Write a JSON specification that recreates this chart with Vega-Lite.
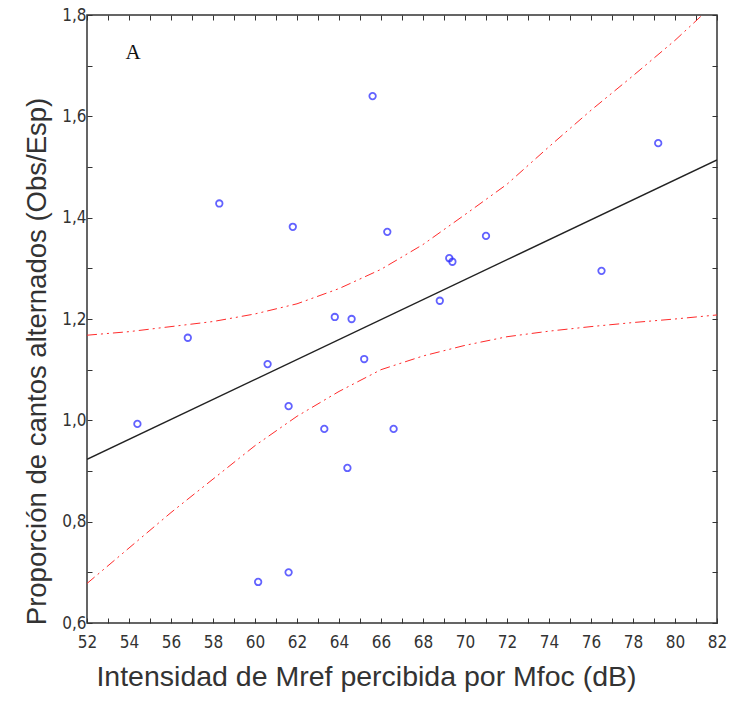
{
  "$schema": "https://vega.github.io/schema/vega-lite/v6.json",
  "width": 630,
  "height": 608,
  "autosize": "none",
  "padding": {"left": 87, "top": 15, "right": 13, "bottom": 82},
  "background": "white",
  "config": {
    "view": {"stroke": "#333333", "strokeWidth": 1.5},
    "axis": {
      "grid": false,
      "domain": false,
      "tickColor": "#333333",
      "tickSize": -5,
      "tickWidth": 1,
      "labelFlush": false,
      "labelFont": "DejaVu Sans Condensed",
      "labelFontSize": 17,
      "labelColor": "#333333",
      "titleFont": "Liberation Sans",
      "titleFontSize": 26,
      "titleFontWeight": "normal",
      "titleColor": "#333333"
    }
  },
  "datasets": {
    "pts": [
      {"x": 54.4, "y": 0.993},
      {"x": 56.8, "y": 1.163},
      {"x": 58.3, "y": 1.428},
      {"x": 60.15, "y": 0.681},
      {"x": 60.6, "y": 1.111},
      {"x": 61.6, "y": 0.70},
      {"x": 61.6, "y": 1.028},
      {"x": 61.8, "y": 1.382},
      {"x": 63.3, "y": 0.983},
      {"x": 63.8, "y": 1.204},
      {"x": 64.4, "y": 0.906},
      {"x": 64.6, "y": 1.20},
      {"x": 65.2, "y": 1.121},
      {"x": 65.6, "y": 1.64},
      {"x": 66.3, "y": 1.372},
      {"x": 66.6, "y": 0.983},
      {"x": 68.8, "y": 1.236},
      {"x": 69.25, "y": 1.32},
      {"x": 69.4, "y": 1.313},
      {"x": 71.0, "y": 1.364},
      {"x": 76.5, "y": 1.295},
      {"x": 79.2, "y": 1.547}
    ],
    "fit": [
      {"x": 52, "y": 0.923},
      {"x": 82, "y": 1.514}
    ],
    "upper": [
      {"x": 52, "y": 1.168},
      {"x": 54, "y": 1.175},
      {"x": 56, "y": 1.185},
      {"x": 58, "y": 1.195},
      {"x": 60, "y": 1.21},
      {"x": 62, "y": 1.23},
      {"x": 64, "y": 1.26},
      {"x": 66, "y": 1.298},
      {"x": 68, "y": 1.347},
      {"x": 70, "y": 1.406},
      {"x": 72, "y": 1.466},
      {"x": 74, "y": 1.54},
      {"x": 76, "y": 1.612},
      {"x": 78, "y": 1.68},
      {"x": 80, "y": 1.75},
      {"x": 81.3, "y": 1.8}
    ],
    "lower": [
      {"x": 52, "y": 0.678},
      {"x": 54, "y": 0.748},
      {"x": 56, "y": 0.818},
      {"x": 58, "y": 0.884},
      {"x": 60, "y": 0.95},
      {"x": 62, "y": 1.008},
      {"x": 64, "y": 1.057},
      {"x": 66, "y": 1.10},
      {"x": 68, "y": 1.127},
      {"x": 70, "y": 1.148},
      {"x": 72, "y": 1.165},
      {"x": 74, "y": 1.176},
      {"x": 76, "y": 1.185},
      {"x": 78, "y": 1.193},
      {"x": 80, "y": 1.200},
      {"x": 82, "y": 1.208}
    ],
    "ann": [
      {"x": 54.2, "y": 1.725, "label": "A"}
    ]
  },
  "resolve": {"axis": {"x": "independent", "y": "independent"}},
  "layer": [
    {
      "data": {"name": "fit"},
      "mark": {"type": "line", "color": "#222222", "strokeWidth": 1.5, "clip": true},
      "encoding": {
        "x": {
          "field": "x", "type": "quantitative",
          "scale": {"domain": [52, 82], "nice": false, "zero": false},
          "axis": {
            "orient": "bottom",
            "title": "Intensidad de Mref percibida por Mfoc (dB)",
            "titleFontSize": 28.5,
            "titleX": 279,
            "values": [52,53,54,55,56,57,58,59,60,61,62,63,64,65,66,67,68,69,70,71,72,73,74,75,76,77,78,79,80,81,82],
            "labelExpr": "datum.value % 2 == 0 ? format(datum.value, 'd') : ''",
            "labelPadding": 16,
            "titlePadding": 12
          }
        },
        "y": {
          "field": "y", "type": "quantitative",
          "scale": {"domain": [0.6, 1.8], "nice": false, "zero": false},
          "axis": {
            "orient": "left",
            "title": "Proporción de cantos alternados (Obs/Esp)",
            "titleFontSize": 27.5,
            "titleY": 346,
            "values": [0.6,0.7,0.8,0.9,1.0,1.1,1.2,1.3,1.4,1.5,1.6,1.7,1.8],
            "labelExpr": "round(datum.value * 10) % 2 == 0 ? replace(format(datum.value, '.1f'), '.', ',') : ''",
            "labelPadding": 6,
            "titlePadding": 10
          }
        }
      }
    },
    {
      "data": {"name": "upper"},
      "mark": {"type": "line", "color": "#ff2a2a", "strokeWidth": 1, "strokeDash": [10, 4, 2, 4, 2, 4], "clip": true},
      "encoding": {
        "x": {
          "field": "x", "type": "quantitative",
          "scale": {"domain": [52, 82], "nice": false, "zero": false},
          "axis": {
            "orient": "top", "title": null, "labels": false,
            "values": [52,53,54,55,56,57,58,59,60,61,62,63,64,65,66,67,68,69,70,71,72,73,74,75,76,77,78,79,80,81,82]
          }
        },
        "y": {
          "field": "y", "type": "quantitative",
          "scale": {"domain": [0.6, 1.8], "nice": false, "zero": false},
          "axis": {
            "orient": "right", "title": null, "labels": false,
            "values": [0.6,0.7,0.8,0.9,1.0,1.1,1.2,1.3,1.4,1.5,1.6,1.7,1.8]
          }
        }
      }
    },
    {
      "data": {"name": "lower"},
      "mark": {"type": "line", "color": "#ff2a2a", "strokeWidth": 1, "strokeDash": [10, 4, 2, 4, 2, 4], "clip": true},
      "encoding": {
        "x": {"field": "x", "type": "quantitative", "axis": null},
        "y": {"field": "y", "type": "quantitative", "axis": null}
      }
    },
    {
      "data": {"name": "pts"},
      "mark": {"type": "point", "shape": "circle", "filled": false, "color": "#2020ff", "size": 42, "strokeWidth": 1.8},
      "encoding": {
        "x": {"field": "x", "type": "quantitative", "axis": null},
        "y": {"field": "y", "type": "quantitative", "axis": null}
      }
    },
    {
      "data": {"name": "ann"},
      "mark": {"type": "text", "font": "Liberation Serif", "fontSize": 21, "color": "#111111"},
      "encoding": {
        "x": {"field": "x", "type": "quantitative", "axis": null},
        "y": {"field": "y", "type": "quantitative", "axis": null},
        "text": {"field": "label"}
      }
    }
  ]
}
